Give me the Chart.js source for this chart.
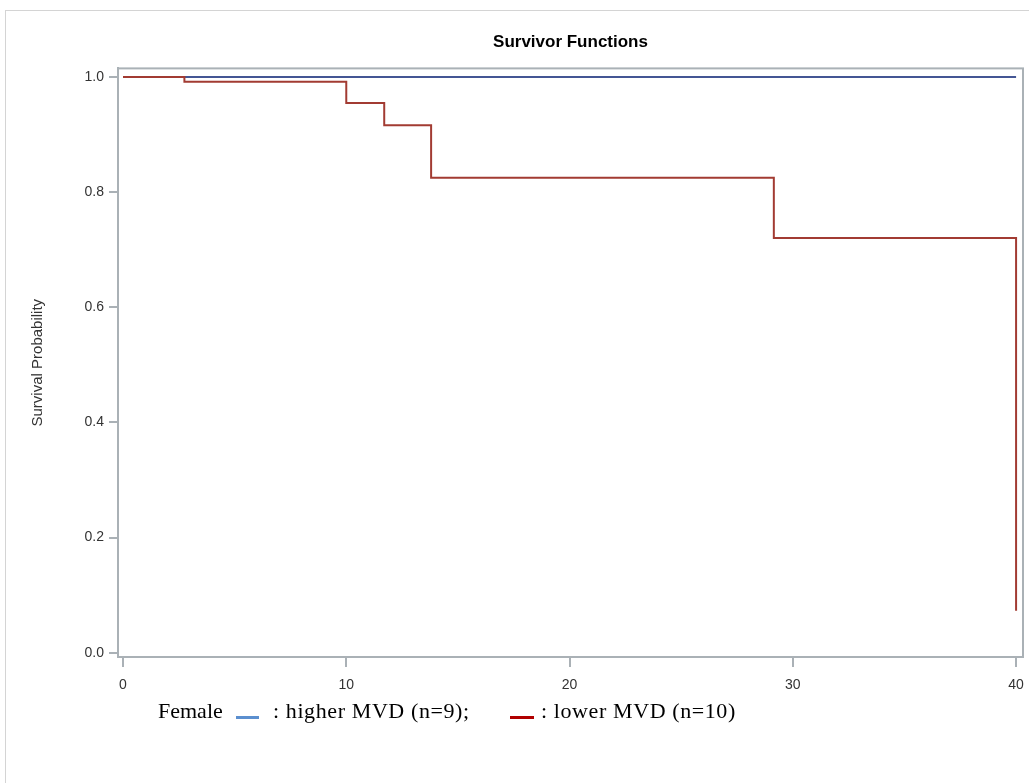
<!DOCTYPE html>
<html>
<head>
<meta charset="utf-8">
<script src="https://cdn.jsdelivr.net/npm/chart.js@4.4.1/dist/chart.umd.min.js"></script>
<style>
  html, body { margin: 0; padding: 0; background: #fff; overflow: hidden; }
  #frame { position: absolute; left: 5px; top: 10px; width: 1100px; height: 900px; border: 1px solid #d4d4d4; }
  #wrap { position: absolute; left: 0; top: 0; width: 1029px; height: 783px; }
  .lg { position: absolute; top: 698px; font-family: "Liberation Serif", "Times New Roman", serif; font-size: 22px; letter-spacing: 0.6px; color: #000; white-space: nowrap; }
  .sw { position: absolute; top: 716px; height: 3px; }
</style>
</head>
<body>
<div id="frame"></div>
<div id="wrap"><canvas id="km"></canvas></div>
<span class="lg" style="left:158px;letter-spacing:0">Female</span>
<span class="sw" style="left:236px;width:23px;background:#5b8fcf"></span>
<span class="lg" style="left:273px">: higher MVD (n=9);</span>
<span class="sw" style="left:510px;width:24px;background:#b00000"></span>
<span class="lg" style="left:541px">: lower MVD (n=10)</span>
<script>
// tempos e sobrevida - MVD baixo (n=10)
var lowerTimes = [0, 2.75, 10.0, 11.7, 13.8, 29.15, 40.0];
var lowerSurv  = [1.0, 0.992, 0.955, 0.9165, 0.825, 0.7205, 0.073];
// MVD alto (n=9) - sem eventos
var higherTimes = [0, 40.0];
var higherSurv  = [1.0, 1.0];
var xTicks = [0, 10, 20, 30, 40];
var yTicks = [0.0, 0.2, 0.4, 0.6, 0.8, 1.0];

function pts(xs, ys) {
    return xs.map(function (x, i) { return { x: x, y: ys[i] }; });
}

var gray = '#aab1b6';

// moldura do gráfico (topo e direita)
var boxPlugin = {
    id: 'box',
    afterDraw: function (chart) {
        var a = chart.chartArea, c = chart.ctx;
        c.save();
        c.strokeStyle = gray;
        c.lineWidth = 2;
        c.strokeRect(a.left, a.top, a.right - a.left, a.bottom - a.top);
        c.restore();
    }
};

var ctx = document.getElementById('km').getContext('2d');
var chart = new Chart(ctx, {
    type: 'line',
    data: {
        datasets: [{
            label: 'higher MVD (n=9)',
            data: pts(higherTimes, higherSurv),
            borderColor: '#445694',
            borderWidth: 2,
            pointRadius: 0,
            stepped: 'before',
            fill: false,
            order: 2
        },
        {
            label: 'lower MVD (n=10)',
            data: pts(lowerTimes, lowerSurv),
            borderColor: '#a23b32',
            borderWidth: 2,
            pointRadius: 0,
            stepped: 'before',
            fill: false,
            order: 1
        }]
    },
    plugins: [boxPlugin],
    options: {
        responsive: true,
        maintainAspectRatio: false,
        animation: false,
        layout: { padding: { left: 0, right: 6, top: 0, bottom: 0 } },
        plugins: {
            legend: { display: false },
            tooltip: { enabled: false },
            title: {
                display: true,
                text: 'Survivor Functions',
                fullSize: false,
                color: '#000',
                font: { family: 'Arial, "Liberation Sans", sans-serif', size: 17, weight: 'bold' },
                padding: { top: 32, bottom: 16 }
            }
        },
        scales: {
            x: {
                type: 'linear',
                min: -0.224,
                max: 40.31,
                afterBuildTicks: function (s) { s.ticks = xTicks.map(function (v) { return { value: v }; }); },
                afterFit: function (s) { s.height = 126; s.paddingLeft = 0; s.paddingRight = 0; },
                ticks: { color: '#333', font: { family: 'Arial, "Liberation Sans", sans-serif', size: 14 }, padding: 10, maxRotation: 0 },
                grid: { drawOnChartArea: false, drawTicks: true, tickLength: 10, color: gray, lineWidth: 2 },
                border: { color: gray, width: 2 }
            },
            y: {
                type: 'linear',
                min: -0.0075,
                max: 1.0151,
                afterBuildTicks: function (s) { s.ticks = yTicks.map(function (v) { return { value: v }; }); },
                afterFit: function (s) { s.width = 118; s.paddingTop = 0; s.paddingBottom = 0; },
                ticks: {
                    color: '#333',
                    font: { family: 'Arial, "Liberation Sans", sans-serif', size: 14 },
                    padding: 5,
                    callback: function (v) { return v.toFixed(1); }
                },
                title: {
                    display: true,
                    text: 'Survival Probability',
                    color: '#333',
                    font: { family: 'Arial, "Liberation Sans", sans-serif', size: 15 },
                    padding: { top: 29, bottom: 0 }
                },
                grid: { drawOnChartArea: false, drawTicks: true, tickLength: 9, color: gray, lineWidth: 2 },
                border: { color: gray, width: 2 }
            }
        }
    }
});
</script>
</body>
</html>
